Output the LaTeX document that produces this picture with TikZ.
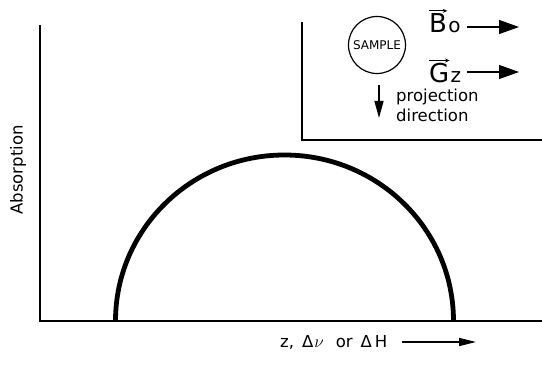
\documentclass[tikz,border=0pt]{standalone}
\usepackage{fontspec}
\setmainfont{DejaVu Sans}
\usetikzlibrary{arrows.meta}
\tikzset{
  axis/.style={line width=1.3pt},
  curve/.style={line width=4.8pt},
  txt/.style={font=\fontsize{16.5}{18}\selectfont, inner sep=0pt},
  bigtxt/.style={font=\fontsize{26}{28}\selectfont, inner sep=0pt, anchor=base west},
  subtxt/.style={font=\fontsize{20}{22}\selectfont, inner sep=0pt, anchor=base west},
  vecarr/.style={line width=0.9pt, -{Stealth[length=4.5pt,width=4pt]}},
  bigarrow/.style={line width=1.4pt, -{Triangle[length=20pt,width=14pt]}},
  downarrow/.style={line width=1.4pt, -{Triangle[length=17pt,width=9pt]}},
  axarrow/.style={line width=1.4pt, -{Triangle[length=17pt,width=8pt]}},
}
\begin{document}
\begin{tikzpicture}[x=1pt,y=1pt]
\useasboundingbox (0,0) rectangle (542,365);
% axes
\coordinate (ytop) at (40,340);
\coordinate (orig) at (40,44);
\coordinate (xend) at (542,44);
\draw[axis] (ytop) -- (orig) -- (xend);
% half ellipse
\coordinate (cl) at (115.5,44);
\draw[curve] (cl) arc[start angle=180, end angle=0, x radius=169, y radius=166];
% inset box
\coordinate (bt) at (302,343);
\coordinate (bb) at (302,225);
\coordinate (br) at (542,225);
\draw[axis] (bt) -- (bb) -- (br);
% sample
\node[circle, draw, line width=1.2pt, minimum size=57pt, inner sep=0pt,
  font=\fontsize{12}{13}\selectfont] (sample) at (377,320) {SAMPLE};
\coordinate (ps) at (379,280);
\coordinate (pd) at (379,247);
\draw[downarrow] (ps) -- (pd);
\node[txt, anchor=west] (proj) at (396,268) {projection};
\node[txt, anchor=west] (dir) at (396,250) {direction};
% B0 and Gz
\node[bigtxt] (B) at (429,332) {B};
\node[subtxt] (Bo) at ([xshift=1pt]B.base east) {o};
\draw[vecarr] ([yshift=3pt]B.north west) -- ([yshift=3pt]B.north east);
\coordinate (Bs) at (467,338);
\coordinate (Be) at (519,338);
\draw[bigarrow] (Bs) -- (Be);
\node[bigtxt] (G) at (429,282) {G};
\node[subtxt] (Gz) at ([xshift=1pt]G.base east) {z};
\draw[vecarr] ([yshift=3pt]G.north west) -- ([yshift=3pt]G.north east);
\coordinate (Gs) at (467,293);
\coordinate (Ge) at (519,293);
\draw[bigarrow] (Gs) -- (Ge);
% labels
\node[txt, rotate=90] (absn) at (18,195) {Absorption};
\node[txt, anchor=west] (xl) at (280,23) {z,\hspace{8pt}Δ\hspace{1pt}$\nu$\hspace{12pt}or\hspace{8pt}Δ\hspace{3pt}H};
\coordinate (xs) at (402,23);
\coordinate (xa) at (476,23);
\draw[axarrow] (xs) -- (xa);
\end{tikzpicture}
\end{document}
